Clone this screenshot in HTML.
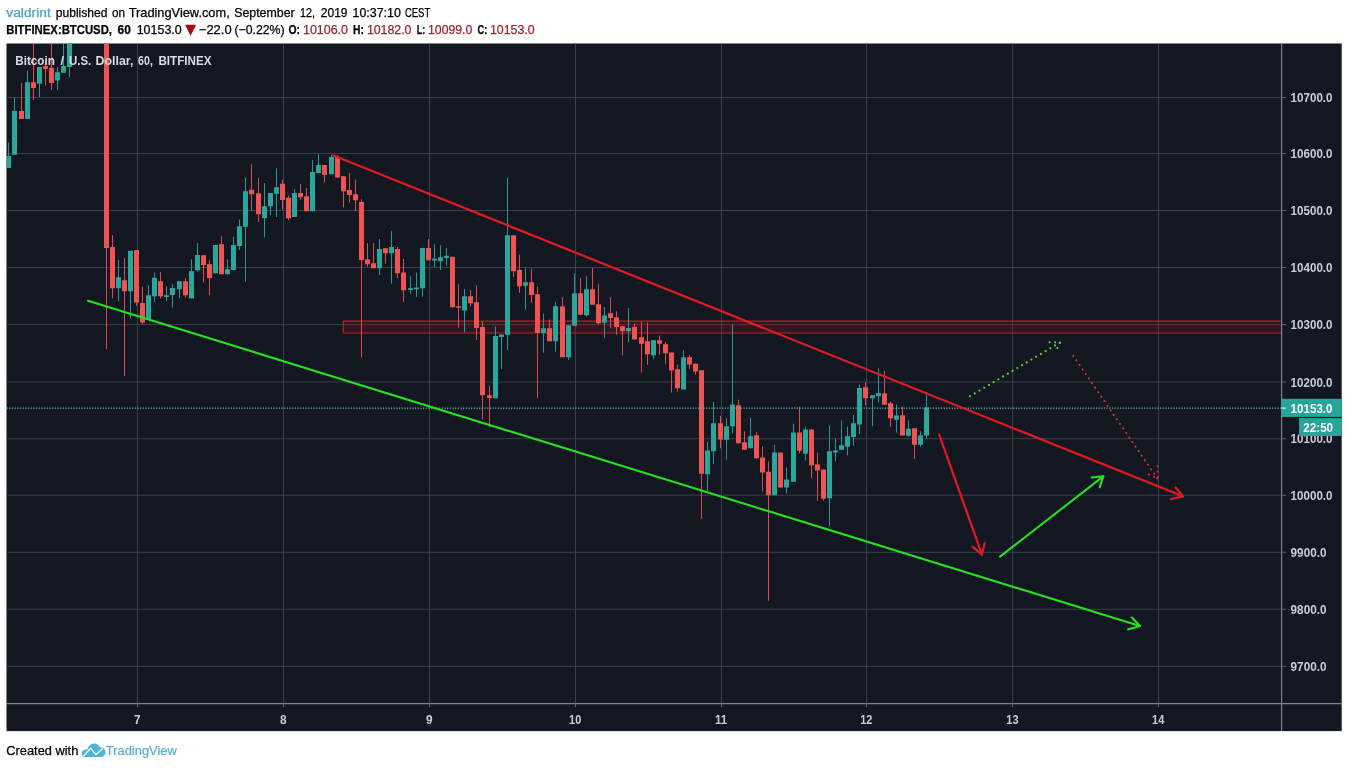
<!DOCTYPE html>
<html lang="en"><head><meta charset="utf-8"><title>BTCUSD chart by valdrint</title>
<style>html,body{margin:0;padding:0;background:#fff;overflow:hidden}svg{display:block}text{font-family:"Liberation Sans",sans-serif}.b{font-weight:700}</style></head><body>
<svg width="1348" height="768" viewBox="0 0 1348 768">
<rect x="0" y="0" width="1348" height="768" fill="#fff"/>
<text y="16.6" font-size="12.4" fill="#000" stroke="#000" stroke-width="0.25"><tspan x="6.3" textLength="44.5" lengthAdjust="spacingAndGlyphs" fill="#4aa3d1" stroke="#4aa3d1">valdrint</tspan> <tspan x="55.8" textLength="51.7" lengthAdjust="spacingAndGlyphs">published</tspan> <tspan x="112" textLength="13" lengthAdjust="spacingAndGlyphs">on</tspan> <tspan x="128.7" textLength="101.0" lengthAdjust="spacingAndGlyphs">TradingView.com,</tspan> <tspan x="234.2" textLength="60.5" lengthAdjust="spacingAndGlyphs">September</tspan> <tspan x="300" textLength="15" lengthAdjust="spacingAndGlyphs">12,</tspan> <tspan x="320.8" textLength="26.7" lengthAdjust="spacingAndGlyphs">2019</tspan> <tspan x="352.5" textLength="48.3" lengthAdjust="spacingAndGlyphs">10:37:10</tspan> <tspan x="404.9" textLength="25.3" lengthAdjust="spacingAndGlyphs">CEST</tspan></text>
<text y="33.5" font-size="12.4" fill="#000" stroke="#000" stroke-width="0.25"><tspan x="6.3" textLength="105.7" lengthAdjust="spacingAndGlyphs" class="b">BITFINEX:BTCUSD,</tspan> <tspan x="117.5" textLength="13.3" lengthAdjust="spacingAndGlyphs" class="b">60</tspan> <tspan x="136.7" textLength="45.0" lengthAdjust="spacingAndGlyphs">10153.0</tspan> <tspan x="185.0" dy="0.3" font-family="DejaVu Sans, sans-serif" font-size="14.6" fill="#a30d12" stroke="none">▼</tspan> <tspan dy="-0.3" x="198.8" textLength="32.9" lengthAdjust="spacingAndGlyphs">−22.0</tspan> <tspan x="234.4" textLength="50.2" lengthAdjust="spacingAndGlyphs">(−0.22%)</tspan> <tspan x="288.5" textLength="11.5" lengthAdjust="spacingAndGlyphs" class="b">O:</tspan> <tspan x="303" textLength="45" lengthAdjust="spacingAndGlyphs" fill="#9c2431" stroke="#9c2431">10106.0</tspan> <tspan x="353" textLength="10.8" lengthAdjust="spacingAndGlyphs" class="b">H:</tspan> <tspan x="366.9" textLength="44.6" lengthAdjust="spacingAndGlyphs" fill="#9c2431" stroke="#9c2431">10182.0</tspan> <tspan x="416.8" textLength="8.5" lengthAdjust="spacingAndGlyphs" class="b">L:</tspan> <tspan x="428" textLength="44.3" lengthAdjust="spacingAndGlyphs" fill="#9c2431" stroke="#9c2431">10099.0</tspan> <tspan x="477.5" textLength="9.7" lengthAdjust="spacingAndGlyphs" class="b">C:</tspan> <tspan x="490" textLength="44.6" lengthAdjust="spacingAndGlyphs" fill="#9c2431" stroke="#9c2431">10153.0</tspan></text>
<rect x="6.5" y="43.5" width="1335.2" height="687.6" fill="#131722"/>
<clipPath id="pane"><rect x="6.5" y="43.5" width="1275.1" height="660.1"/></clipPath>
<path d="M6.5 97.5H1281.6M6.5 153.5H1281.6M6.5 210.5H1281.6M6.5 267.5H1281.6M6.5 324.6H1281.6M6.5 382.0H1281.6M6.5 438.7H1281.6M6.5 495.2H1281.6M6.5 552.3H1281.6M6.5 609.3H1281.6M6.5 666.3H1281.6M137.50 43.5V703.6M283.50 43.5V703.6M429.50 43.5V703.6M575.50 43.5V703.6M721.50 43.5V703.6M866.60 43.5V703.6M1012.70 43.5V703.6M1158.50 43.5V703.6" stroke="#3a3f4c" stroke-width="1" fill="none"/>
<g clip-path="url(#pane)">
<rect x="343.3" y="321.1" width="940" height="11.9" fill="#a0101c" fill-opacity="0.24"/>
<path d="M342.7 321.1H1283M342.7 333H1283M343.3 321.1V333" stroke="#c3212d" stroke-opacity="0.92" stroke-width="1.15" fill="none"/>
<path d="M8.5 142.5V168M14.5 97.5V154.7M27.5 71V119M39.5 67V97M57.5 67V90M63.5 43V72.8M69.5 43V77.3M118.5 260V301.3M130.5 250.8V318.3M148.5 285.3V319.7M154.5 272.5V302.2M166.5 286.3V301.2M172.5 284.2V307.5M179.5 281.3V298.3M191.5 259.2V298.3M197.5 243V271.7M215.5 245V273.3M227.5 259.2V274.2M233.5 236.7V270M239.5 219.5V250M245.5 177.5V281.7M264.5 183V237.5M270.5 193V215M276.5 168.3V217M294.5 189.2V217M312.5 160V211.2M318.5 154.2V173M331.5 154.5V174.2M379.5 239V275M391.5 230.8V283.7M410.5 276.3V293.7M416.5 272.5V297M422.5 248V296.7M434.5 244.2V267M440.5 245.3V270M446.5 248.3V265.8M464.5 289.2V332.2M495.5 326.3V398.3M501.5 334.6V369.2M507.5 177.5V350M525.5 268.3V309.5M543.5 313.7V352.8M555.5 301.7V351.7M568.5 325V360M574.5 273.3V325.8M586.5 276.2V316.7M604.5 307.2V338.3M628.5 308V342M653.5 340.3V359.2M683.5 350.4V389.5M707.5 441.5V490.8M713.5 401.7V464.2M726.5 418.3V459.7M732.5 324.5V433.3M750.5 417.5V448.3M774.5 444.6V495.3M786.5 467.5V493.3M793.5 423.7V481.7M805.5 426.7V460.4M829.5 425.5V526.3M835.5 438.7V461.3M841.5 420.3V449.7M847.5 426.7V455.5M853.5 415V445.4M859.5 384.7V434.2M872.5 395.3V426.3M878.5 368.3V402.5M896.5 404.7V432.5M908.5 420.3V436.7M920.5 431.3V446.7M926.5 392V438.3" stroke="#2aa69b" stroke-width="1" fill="none" opacity="0.9"/>
<path d="M21.5 83V119M33.5 43V100M45.5 62V85.6M51.5 43V90M106.5 43V349.2M112.5 235V298.3M124.5 258V376.2M136.5 250V305.8M142.5 286.7V324.2M160.5 272.2V298.3M185.5 278.3V297.5M203.5 255.3V282.5M209.5 260.3V295.3M221.5 236.2V274.2M251.5 164.2V211.2M258.5 178V222M282.5 179.7V209.7M288.5 195.5V220M300.5 184.2V200M306.5 188V211.2M324.5 165V182.5M337.5 155V177.5M343.5 176.2V207.5M349.5 173V202.5M355.5 179.5V211.2M361.5 199.2V357.5M367.5 243V266.7M373.5 243V268.3M385.5 248.3V263.7M397.5 247V278M403.5 258.8V302M428.5 239V260.3M452.5 256.7V307.2M458.5 284.2V327.8M470.5 290V306.7M476.5 285.3V340M482.5 321.5V419.5M489.5 385.5V427.2M513.5 235.3V277M519.5 254.5V293M531.5 268.7V302.8M537.5 286.7V397.8M549.5 319.5V341.2M562.5 297.2V357.3M580.5 278V314.7M592.5 268V304.7M598.5 284.2V324.5M610.5 297.2V328.3M616.5 311.3V334.7M622.5 326.3V355.5M634.5 323.3V339.5M641.5 321.7V372.5M647.5 322.5V365M659.5 335.5V355M665.5 342V364.2M671.5 352.5V392.5M677.5 364.7V391.7M689.5 355V369.2M695.5 363.7V374.8M701.5 370.3V518.8M720.5 415.8V448.3M738.5 399.7V443.3M744.5 431.3V449.7M756.5 432V458.3M762.5 446.5V491.7M768.5 461.5V600.8M780.5 452.5V487.5M799.5 406.7V453.3M811.5 429.5V478.3M817.5 452.5V500.8M823.5 469.5V500.8M865.5 382.5V405.5M884.5 370.8V404.7M890.5 401.3V426.7M902.5 406.7V435.5M914.5 428.3V458.8" stroke="#ee5451" stroke-width="1" fill="none" opacity="0.9"/>
<path d="M6 156h5V168h-5zM12 111h5V154.7h-5zM25 82.3h5V119h-5zM37 67h5V83.8h-5zM55 72.3h5V80.6h-5zM61 66h5V72.8h-5zM67 43h5V67h-5zM116 277.2h5V288.3h-5zM128 250.8h5V291.3h-5zM146 295.3h5V319.7h-5zM152 277.8h5V296.2h-5zM164 295.3h5V297h-5zM170 288h5V295h-5zM177 281.3h5V289.2h-5zM189 271.3h5V298.3h-5zM195 255h5V270.3h-5zM213 245h5V273.3h-5zM225 269.2h5V274.2h-5zM231 245h5V270h-5zM237 226.2h5V246h-5zM243 191.2h5V226.7h-5zM262 206.2h5V218h-5zM268 193h5V206.2h-5zM274 187.2h5V193.8h-5zM292 193h5V217h-5zM310 172h5V211.2h-5zM316 165h5V173h-5zM329 157h5V174.2h-5zM377 249h5V268.3h-5zM389 247h5V253.2h-5zM408 288.3h5V290h-5zM414 287.5h5V289.2h-5zM420 248h5V288.3h-5zM432 258.8h5V260.5h-5zM438 257.2h5V261.2h-5zM444 255.8h5V258h-5zM462 296.2h5V310.5h-5zM493 336h5V398.3h-5zM499 334.6h5V337h-5zM505 235.3h5V334.7h-5zM523 282.2h5V285.8h-5zM541 328.3h5V333h-5zM553 306.2h5V341.2h-5zM566 325.2h5V357.3h-5zM572 293.3h5V325.8h-5zM584 289.2h5V315.3h-5zM602 315.5h5V322.8h-5zM626 328h5V331.3h-5zM651 340.3h5V355.3h-5zM681 357.2h5V389.5h-5zM705 450.5h5V474.2h-5zM711 423.3h5V451.3h-5zM724 426.3h5V439.7h-5zM730 404.5h5V426.2h-5zM748 436.2h5V448.3h-5zM772 452.5h5V495.3h-5zM784 479.5h5V487.5h-5zM791 432.5h5V481.7h-5zM803 429.5h5V453.8h-5zM827 451.3h5V498.3h-5zM833 450.5h5V452.5h-5zM839 445.3h5V449.7h-5zM845 436.3h5V446.7h-5zM851 423.3h5V437h-5zM857 388h5V424.5h-5zM870 395.3h5V398.3h-5zM876 393.3h5V396.3h-5zM894 415.5h5V419.7h-5zM906 428.7h5V435.8h-5zM918 435.3h5V444.7h-5zM924 407.5h5V435.5h-5z" fill="#2aa69b"/>
<path d="M19 111h5V119h-5zM31 82.3h5V88h-5zM43 66h5V69h-5zM49 67.8h5V83h-5zM104 43h5V248h-5zM110 247h5V288.3h-5zM122 280.3h5V291.3h-5zM134 250h5V302.5h-5zM140 303h5V322.5h-5zM158 281.2h5V296.2h-5zM183 281.2h5V295.3h-5zM201 255.3h5V265h-5zM207 264.2h5V278h-5zM219 244.2h5V274.2h-5zM249 189.7h5V194.2h-5zM256 193.3h5V214.2h-5zM280 183.8h5V200h-5zM286 197.8h5V218.3h-5zM298 193h5V197.2h-5zM304 196.2h5V211.2h-5zM322 165h5V175h-5zM335 156.7h5V177.5h-5zM341 176.2h5V191.3h-5zM347 190h5V195h-5zM353 194.2h5V200.3h-5zM359 202h5V260h-5zM365 259.2h5V264.2h-5zM371 263.3h5V268.3h-5zM383 248.3h5V253.3h-5zM395 249h5V273.3h-5zM401 272.5h5V290.3h-5zM426 248h5V260.3h-5zM450 256.7h5V307.2h-5zM456 306.2h5V307.8h-5zM468 296.2h5V303.3h-5zM474 302.2h5V328h-5zM480 327h5V395.3h-5zM487 395.3h5V398h-5zM511 235.3h5V271.3h-5zM517 270h5V286.2h-5zM529 282.2h5V295h-5zM535 294.2h5V333h-5zM547 328.3h5V341.2h-5zM560 306.5h5V357.3h-5zM578 293.3h5V314.7h-5zM590 289.2h5V304.7h-5zM596 304.2h5V323.3h-5zM608 313.3h5V318h-5zM614 317.2h5V327h-5zM620 326.3h5V331.2h-5zM632 327h5V339.5h-5zM639 337.2h5V343.7h-5zM645 341.2h5V354.2h-5zM657 340.3h5V343.7h-5zM663 344.2h5V353.3h-5zM669 352.5h5V370.4h-5zM675 369.2h5V388.3h-5zM687 357.2h5V364.6h-5zM693 363.7h5V371.5h-5zM699 370.3h5V473.7h-5zM718 423.3h5V439.6h-5zM736 405.3h5V443.3h-5zM742 442.2h5V449.7h-5zM754 435.3h5V458.3h-5zM760 457.5h5V472.5h-5zM766 471.7h5V495.3h-5zM778 452.5h5V487.5h-5zM797 432.5h5V450.8h-5zM809 429.5h5V465.3h-5zM815 464.4h5V470.5h-5zM821 469.5h5V498.7h-5zM863 387.2h5V398.3h-5zM882 393.3h5V404.7h-5zM888 403.3h5V418.3h-5zM900 415.3h5V435.5h-5zM912 428.3h5V444.7h-5z" fill="#ee5451"/>
<path d="M6.5 408.1H1281.6" stroke="#58b5ac" stroke-width="1.15" stroke-dasharray="1.2 1.47" fill="none"/>
<path d="M88 300.8L1140 626" stroke="#25e122" stroke-width="2.15" fill="none" stroke-linecap="round"/><path d="M1131.9 617.5L1140 626L1128.1 629.4" stroke="#25e122" stroke-width="2.15" fill="none" stroke-linecap="round" stroke-linejoin="round"/>
<path d="M333.5 155.5L1183 496.3" stroke="#e01a20" stroke-width="2.25" fill="none" stroke-linecap="round"/><path d="M1175.6 487.5L1183 496.3L1171.0 499.0" stroke="#e01a20" stroke-width="2.25" fill="none" stroke-linecap="round" stroke-linejoin="round"/>
<path d="M939.2 434.7L982 554.7" stroke="#e01a20" stroke-width="2.2" fill="none" stroke-linecap="round"/><path d="M972.5 546.7L982 554.7L984.7 543.0" stroke="#e01a20" stroke-width="2.2" fill="none" stroke-linecap="round" stroke-linejoin="round"/>
<path d="M1000 556.7L1103.3 476.3" stroke="#25e122" stroke-width="2.1" fill="none" stroke-linecap="round"/><path d="M1091.7 477.5L1103.3 476.3L1099.7 487.2" stroke="#25e122" stroke-width="2.1" fill="none" stroke-linecap="round" stroke-linejoin="round"/>
<path d="M970 396.2L1060 342.5" stroke="#4fe038" stroke-width="2.0" fill="none" stroke-linecap="round" stroke-dasharray="0.1 5.4"/><path d="M1049.5 342.2L1060 342.5L1055.3 352.2" stroke="#4fe038" stroke-width="2.0" fill="none" stroke-linecap="round" stroke-linejoin="round" stroke-dasharray="0.1 5.4"/>
<path d="M1073.3 355.8L1157.5 478.7" stroke="#d63543" stroke-width="2.0" fill="none" stroke-linecap="round" stroke-dasharray="0.1 5.4"/><path d="M1157.5 466.2L1157.5 478.7L1147.7 474.0" stroke="#d63543" stroke-width="2.0" fill="none" stroke-linecap="round" stroke-linejoin="round" stroke-dasharray="0.1 5.4"/>
</g>
<text y="64.8" font-size="12.3" class="b" fill="#dcdde2"><tspan x="15.3" textLength="39.6" lengthAdjust="spacingAndGlyphs">Bitcoin</tspan> <tspan x="60.6">/</tspan> <tspan x="69.0" textLength="22.2" lengthAdjust="spacingAndGlyphs">U.S.</tspan> <tspan x="95.6" textLength="37.8" lengthAdjust="spacingAndGlyphs">Dollar,</tspan> <tspan x="138.1" textLength="14.8" lengthAdjust="spacingAndGlyphs">60,</tspan> <tspan x="158.4" textLength="53.1" lengthAdjust="spacingAndGlyphs">BITFINEX</tspan></text>
<path d="M1281.6 43.5V731.1M6.5 703.6H1341.7" stroke="#80848f" stroke-width="1.2" fill="none"/>
<path d="M1281.6 97.5h4.5M1281.6 153.5h4.5M1281.6 210.5h4.5M1281.6 267.5h4.5M1281.6 324.6h4.5M1281.6 382.0h4.5M1281.6 438.7h4.5M1281.6 495.2h4.5M1281.6 552.3h4.5M1281.6 609.3h4.5M1281.6 666.3h4.5M137.50 703.6v3.5M283.50 703.6v3.5M429.50 703.6v3.5M575.50 703.6v3.5M721.50 703.6v3.5M866.60 703.6v3.5M1012.70 703.6v3.5M1158.50 703.6v3.5" stroke="#5d6271" stroke-width="1.1" fill="none"/>
<text x="1290.6" y="102.2" font-size="11.9" class="b" fill="#cbced6" textLength="41.9" lengthAdjust="spacingAndGlyphs">10700.0</text>
<text x="1290.6" y="158.2" font-size="11.9" class="b" fill="#cbced6" textLength="41.9" lengthAdjust="spacingAndGlyphs">10600.0</text>
<text x="1290.6" y="215.2" font-size="11.9" class="b" fill="#cbced6" textLength="41.9" lengthAdjust="spacingAndGlyphs">10500.0</text>
<text x="1290.6" y="272.2" font-size="11.9" class="b" fill="#cbced6" textLength="41.9" lengthAdjust="spacingAndGlyphs">10400.0</text>
<text x="1290.6" y="329.3" font-size="11.9" class="b" fill="#cbced6" textLength="41.9" lengthAdjust="spacingAndGlyphs">10300.0</text>
<text x="1290.6" y="386.7" font-size="11.9" class="b" fill="#cbced6" textLength="41.9" lengthAdjust="spacingAndGlyphs">10200.0</text>
<text x="1290.6" y="443.4" font-size="11.9" class="b" fill="#cbced6" textLength="41.9" lengthAdjust="spacingAndGlyphs">10100.0</text>
<text x="1290.6" y="499.9" font-size="11.9" class="b" fill="#cbced6" textLength="41.9" lengthAdjust="spacingAndGlyphs">10000.0</text>
<text x="1290.6" y="557.0" font-size="11.9" class="b" fill="#cbced6" textLength="35.9" lengthAdjust="spacingAndGlyphs">9900.0</text>
<text x="1290.6" y="614.0" font-size="11.9" class="b" fill="#cbced6" textLength="35.9" lengthAdjust="spacingAndGlyphs">9800.0</text>
<text x="1290.6" y="671.0" font-size="11.9" class="b" fill="#cbced6" textLength="35.9" lengthAdjust="spacingAndGlyphs">9700.0</text>
<text x="137.2" y="723.6" font-size="11.9" class="b" fill="#cbced6" text-anchor="middle">7</text>
<text x="283.2" y="723.6" font-size="11.9" class="b" fill="#cbced6" text-anchor="middle">8</text>
<text x="429.2" y="723.6" font-size="11.9" class="b" fill="#cbced6" text-anchor="middle">9</text>
<text x="575.2" y="723.6" font-size="11.9" class="b" fill="#cbced6" text-anchor="middle" textLength="12.2" lengthAdjust="spacingAndGlyphs">10</text>
<text x="721.2" y="723.6" font-size="11.9" class="b" fill="#cbced6" text-anchor="middle" textLength="12.2" lengthAdjust="spacingAndGlyphs">11</text>
<text x="866.3" y="723.6" font-size="11.9" class="b" fill="#cbced6" text-anchor="middle" textLength="12.2" lengthAdjust="spacingAndGlyphs">12</text>
<text x="1012.4" y="723.6" font-size="11.9" class="b" fill="#cbced6" text-anchor="middle" textLength="12.2" lengthAdjust="spacingAndGlyphs">13</text>
<text x="1158.2" y="723.6" font-size="11.9" class="b" fill="#cbced6" text-anchor="middle" textLength="12.2" lengthAdjust="spacingAndGlyphs">14</text>
<rect x="1281.2" y="398.8" width="60.4" height="18.1" fill="#26a69a"/>
<path d="M1281.6 408.1h4" stroke="#e8f4f2" stroke-width="1.2"/>
<text x="1290.6" y="412.6" font-size="11.9" class="b" fill="#fff" textLength="41.9" lengthAdjust="spacingAndGlyphs">10153.0</text>
<rect x="1299.1" y="418.1" width="42.5" height="17.9" fill="#26a69a"/>
<text x="1303.3" y="431.7" font-size="11.9" class="b" fill="#fff" textLength="29.8" lengthAdjust="spacingAndGlyphs">22:50</text>
<text y="754.7" font-size="13.2"><tspan x="6.3" fill="#000" stroke="#000" stroke-width="0.25" textLength="72" lengthAdjust="spacingAndGlyphs">Created with</tspan> <tspan x="105.8" fill="#55add2" stroke="#55add2" stroke-width="0.2" textLength="71" lengthAdjust="spacingAndGlyphs">TradingView</tspan></text>
<g><path d="M85.6 757.1a3.6 3.6 0 0 1 -0.4 -7.2a3.2 3.2 0 0 1 2.6 -0.9a6.3 6.3 0 0 1 12 -1.6a4.9 4.9 0 0 1 1.6 9.7z" fill="#49b4de"/><path d="M83.4 756.2L90.6 748.2L96 754.6L102.6 748.6" stroke="#fff" stroke-width="1.3" fill="none" stroke-linejoin="miter"/></g>
</svg></body></html>
